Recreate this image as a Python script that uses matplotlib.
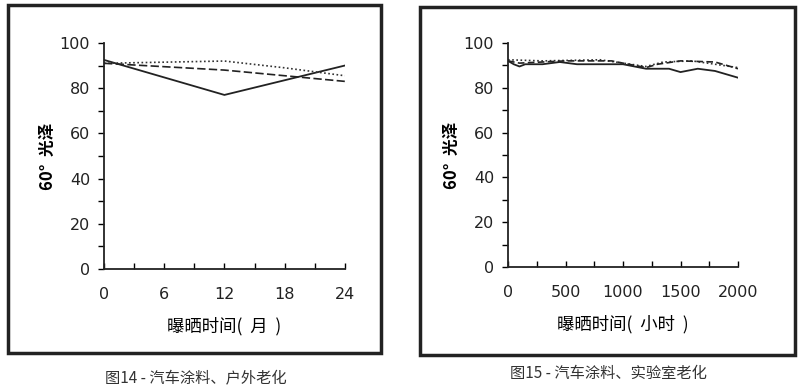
import matplotlib.pyplot as plt
from matplotlib.patches import Rectangle
from matplotlib.ticker import MultipleLocator

plt.rcParams['font.family'] = ['Noto Sans CJK SC', 'DejaVu Sans']

# 图14 户外老化 (months)
months_solid = [0, 12, 24]
gloss_solid_14 = [92.5, 77, 90]
months_dotted = [0, 6, 12, 18, 24]
gloss_dotted_14 = [91, 91.5, 92, 89, 85.5]
months_dashed = [0, 12, 24]
gloss_dashed_14 = [91, 88, 83]

# 图15 实验室老化 (hours)
hours_solid = [0, 50, 100, 150, 300, 450, 600, 1000, 1200, 1300, 1400, 1500, 1650, 1800, 2000]
gloss_solid_15 = [92, 90.5, 89.5, 90.5, 90.5, 91.5, 90.5, 90.5, 88.5, 88.5, 88.5, 87, 88.5, 87.5, 84.5]
hours_dashed = [0, 100, 300, 500, 900, 1200, 1300, 1500, 1800, 2000]
gloss_dashed_15 = [92, 91, 91.5, 92, 92, 89, 90.5, 92, 91.5, 88.5]
hours_dotted = [0, 300, 800, 1200, 1350, 1600, 2000]
gloss_dotted_15 = [92.5, 92, 92.5, 89.5, 91.5, 92, 89]

fig = plt.figure(figsize=(8, 3.87), dpi=100)

# outer frames
fig.patches.append(Rectangle((0.01, 0.088), 0.466, 0.899, transform=fig.transFigure,
                             fill=False, lw=2.5, ec='#222222'))
fig.patches.append(Rectangle((0.525, 0.083), 0.469, 0.899, transform=fig.transFigure,
                             fill=False, lw=2.5, ec='#222222'))

ax1 = fig.add_axes([0.13, 0.305, 0.301, 0.584])
ax2 = fig.add_axes([0.635, 0.31, 0.2875, 0.579])

ax1.plot(months_solid, gloss_solid_14, color='#222222', lw=1.3, ls='-')
ax1.plot(months_dotted, gloss_dotted_14, color='#333333', lw=1.2, ls=(0, (1, 1.5)))
ax1.plot(months_dashed, gloss_dashed_14, color='#222222', lw=1.2, ls=(0, (5, 2)))

ax2.plot(hours_solid, gloss_solid_15, color='#222222', lw=1.3, ls='-')
ax2.plot(hours_dotted, gloss_dotted_15, color='#333333', lw=1.2, ls=(0, (1, 1.5)))
ax2.plot(hours_dashed, gloss_dashed_15, color='#222222', lw=1.2, ls=(0, (4, 2)))

for ax, xmax, xmaj, xmin_, unit in [(ax1, 24, 6, 3, '月'), (ax2, 2000, 500, 250, '小时')]:
    ax.set_xlim(0, xmax)
    ax.set_ylim(0, 100)
    ax.spines['top'].set_visible(False)
    ax.spines['right'].set_visible(False)
    for s in ['left', 'bottom']:
        ax.spines[s].set_linewidth(1.3)
        ax.spines[s].set_color('#222222')
    ax.xaxis.set_major_locator(MultipleLocator(xmaj))
    ax.xaxis.set_minor_locator(MultipleLocator(xmin_))
    ax.yaxis.set_major_locator(MultipleLocator(20))
    ax.yaxis.set_minor_locator(MultipleLocator(10))
    ax.tick_params(axis='x', which='both', direction='in', length=4, width=1, pad=13, labelsize=11.5)
    ax.tick_params(axis='y', which='both', direction='out', length=4, width=1, pad=6, labelsize=11.5)
    ax.set_xlabel('曝晒时间(  %s  )' % unit, fontsize=12.5, labelpad=11)
    ax.set_ylabel('60°  光泽', fontsize=12, fontweight='bold', labelpad=2)
    for lab in ax.get_xticklabels() + ax.get_yticklabels():
        lab.set_fontfamily('DejaVu Sans')
        lab.set_color('#222222')

fig.text(0.245, 0.025, '图14 - 汽车涂料、户外老化', ha='center', va='center', fontsize=11, color='#333333')
fig.text(0.761, 0.036, '图15 - 汽车涂料、实验室老化', ha='center', va='center', fontsize=11, color='#333333')

fig.savefig('out.png', dpi=100)
